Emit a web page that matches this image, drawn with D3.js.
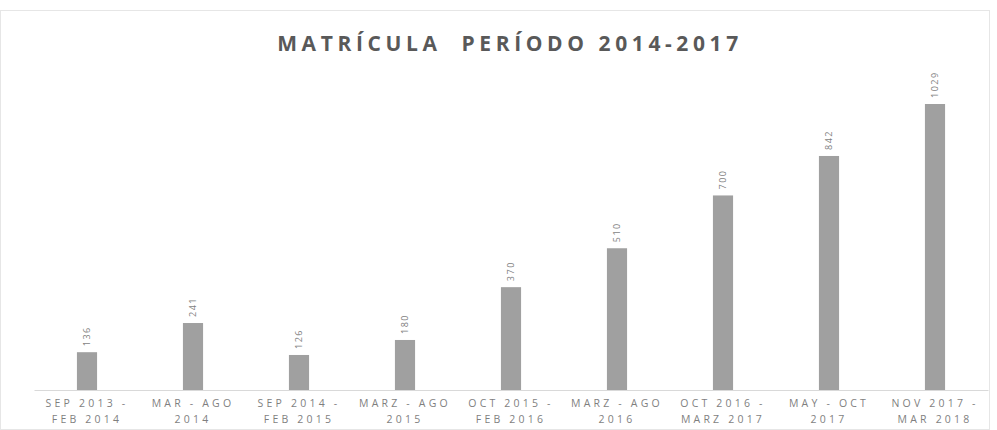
<!DOCTYPE html>
<html>
<head>
<meta charset="utf-8">
<script src="https://cdn.jsdelivr.net/npm/d3@7"></script>
<style>
  html, body { margin: 0; padding: 0; background: #ffffff; }
  svg { display: block; }
</style>
</head>
<body>
<script>
// Enrolment per academic period
const periods = [
  ["SEP 2013 -", "FEB 2014"],
  ["MAR - AGO", "2014"],
  ["SEP 2014 -", "FEB 2015"],
  ["MARZ - AGO", "2015"],
  ["OCT 2015 -", "FEB 2016"],
  ["MARZ - AGO", "2016"],
  ["OCT 2016 -", "MARZ 2017"],
  ["MAY - OCT", "2017"],
  ["NOV 2017 -", "MAR 2018"]
];
const enrolment = [136, 241, 126, 180, 370, 510, 700, 842, 1029];
const chartTitle = "MATRÍCULA  PERÍODO 2014-2017";

const W = 997, H = 430;
const margin = { top: 60, right: 9, bottom: 40, left: 34 };

const svg = d3.select("body").append("svg")
  .attr("width", W).attr("height", H);

// chart frame
svg.append("rect")
  .attr("x", 0.5).attr("y", 10.5)
  .attr("width", W - 8).attr("height", H - 11)
  .attr("fill", "none").attr("stroke", "#e6e6e6");

const x = d3.scaleBand()
  .domain(d3.range(periods.length))
  .range([margin.left, W - margin.right])
  .paddingInner(0.81).paddingOuter(0.405);

const baseY = H - margin.bottom;
const y = d3.scaleLinear()
  .domain([0, 1029])
  .range([baseY, 104]);

// title
svg.append("text")
  .attr("x", 510).attr("y", 51)
  .attr("text-anchor", "middle")
  .attr("font-family", "'Open Sans', 'Liberation Sans', sans-serif")
  .attr("font-size", 21)
  .attr("font-weight", 700)
  .attr("letter-spacing", 4.6)
  .attr("fill", "#595959")
  .style("white-space", "pre")
  .text(chartTitle);

// bars
svg.append("g").selectAll("rect")
  .data(enrolment)
  .join("rect")
  .attr("x", (d, i) => x(i))
  .attr("y", d => y(d))
  .attr("width", x.bandwidth())
  .attr("height", d => baseY - y(d))
  .attr("fill", "#a0a0a0");

// category axis
const xAxis = d3.axisBottom(x).tickSize(0).tickFormat(() => "");
const gx = svg.append("g")
  .attr("transform", `translate(0,${baseY})`)
  .call(xAxis);
gx.select(".domain").attr("stroke", "#d9d9d9");

const labels = svg.append("g").selectAll("text")
  .data(periods)
  .join("text")
  .attr("text-anchor", "middle")
  .attr("font-family", "'Open Sans', 'Liberation Sans', sans-serif")
  .attr("font-size", 10.5)
  .attr("letter-spacing", 3.2)
  .attr("fill", "#7f7f7f");
labels.each(function (d, i) {
  const cx = x(i) + x.bandwidth() / 2;
  d3.select(this).selectAll("tspan")
    .data(d)
    .join("tspan")
    .attr("x", cx)
    .attr("y", (t, j) => baseY + 17 + j * 16)
    .text(t => t);
});

// value labels, rotated above each bar
svg.append("g").selectAll("text")
  .data(enrolment)
  .join("text")
  .attr("transform", (d, i) => `translate(${x(i) + x.bandwidth() / 2 + 3},${y(d) - 6}) rotate(-90)`)
  .attr("text-anchor", "start")
  .attr("font-family", "'Open Sans', 'Liberation Sans', sans-serif")
  .attr("font-size", 9)
  .attr("letter-spacing", 1.5)
  .attr("fill", "#7f7f7f")
  .text(d => d);
</script>
</body>
</html>
